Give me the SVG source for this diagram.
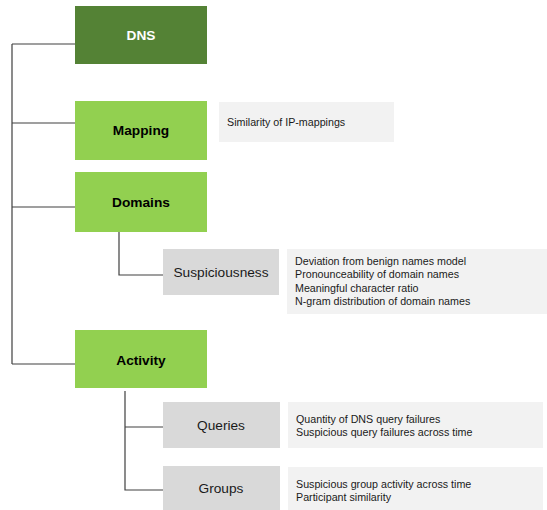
<svg xmlns="http://www.w3.org/2000/svg" width="547" height="510" viewBox="0 0 547 510">
  <style>
    .root { fill: #548235; }
    .cat { fill: #92D050; }
    .sub { fill: #D9D9D9; }
    .detail { fill: #F2F2F2; }
    .bold { font-family: "Liberation Sans", Arial, sans-serif; font-weight: bold; font-size: 13.7px; text-anchor: middle; fill: #000; }
    .bold.white { fill: #FFFFFF; }
    .label { font-family: "Liberation Sans", Arial, sans-serif; font-size: 13.7px; text-anchor: middle; fill: #1a1a1a; }
    .small { font-family: "Liberation Sans", Arial, sans-serif; font-size: 10.7px; fill: #1a1a1a; }
    .conn { fill: none; stroke: #404040; stroke-width: 1.2; }
  </style>

  <rect width="547" height="510" fill="#FFFFFF"/>

  <g id="connectors">
    <path class="conn" d="M12,44 V364 M12,44 H75 M12,123 H75 M12,207 H75 M12,364 H75"/>
    <path class="conn" d="M119,232 V275 H163"/>
    <path class="conn" d="M125,391 V490 H163 M125,427 H163"/>
  </g>

  <g id="dns">
    <rect class="root" x="75" y="6" width="132" height="58"/>
    <text class="bold white" x="141" y="40">DNS</text>
  </g>

  <g id="mapping">
    <rect class="cat" x="75" y="101" width="132" height="59"/>
    <text class="bold" x="141" y="135">Mapping</text>
  </g>

  <g id="mapping-detail">
    <rect class="detail" x="219" y="102" width="175" height="40"/>
    <text class="small" x="227" y="126">Similarity of IP-mappings</text>
  </g>

  <g id="domains">
    <rect class="cat" x="75" y="172" width="132" height="60"/>
    <text class="bold" x="141" y="207">Domains</text>
  </g>

  <g id="suspiciousness">
    <rect class="sub" x="163" y="249" width="116" height="46"/>
    <text class="label" x="221" y="277">Suspiciousness</text>
  </g>

  <g id="suspiciousness-detail">
    <rect class="detail" x="287" y="249" width="260" height="65"/>
    <text class="small" x="295" y="264.5">Deviation from benign names model</text>
    <text class="small" x="295" y="278">Pronounceability of domain names</text>
    <text class="small" x="295" y="291.5">Meaningful character ratio</text>
    <text class="small" x="295" y="305">N-gram distribution of domain names</text>
  </g>

  <g id="activity">
    <rect class="cat" x="75" y="330" width="132" height="58"/>
    <text class="bold" x="141" y="365">Activity</text>
  </g>

  <g id="queries">
    <rect class="sub" x="163" y="402" width="117" height="46"/>
    <text class="label" x="221" y="430">Queries</text>
  </g>

  <g id="queries-detail">
    <rect class="detail" x="288" y="402" width="255" height="46"/>
    <text class="small" x="296" y="423">Quantity of DNS query failures</text>
    <text class="small" x="296" y="436">Suspicious query failures across time</text>
  </g>

  <g id="groups">
    <rect class="sub" x="163" y="466" width="117" height="44"/>
    <text class="label" x="221" y="493">Groups</text>
  </g>

  <g id="groups-detail">
    <rect class="detail" x="288" y="467" width="255" height="43"/>
    <text class="small" x="296" y="488">Suspicious group activity across time</text>
    <text class="small" x="296" y="501">Participant similarity</text>
  </g>
</svg>
